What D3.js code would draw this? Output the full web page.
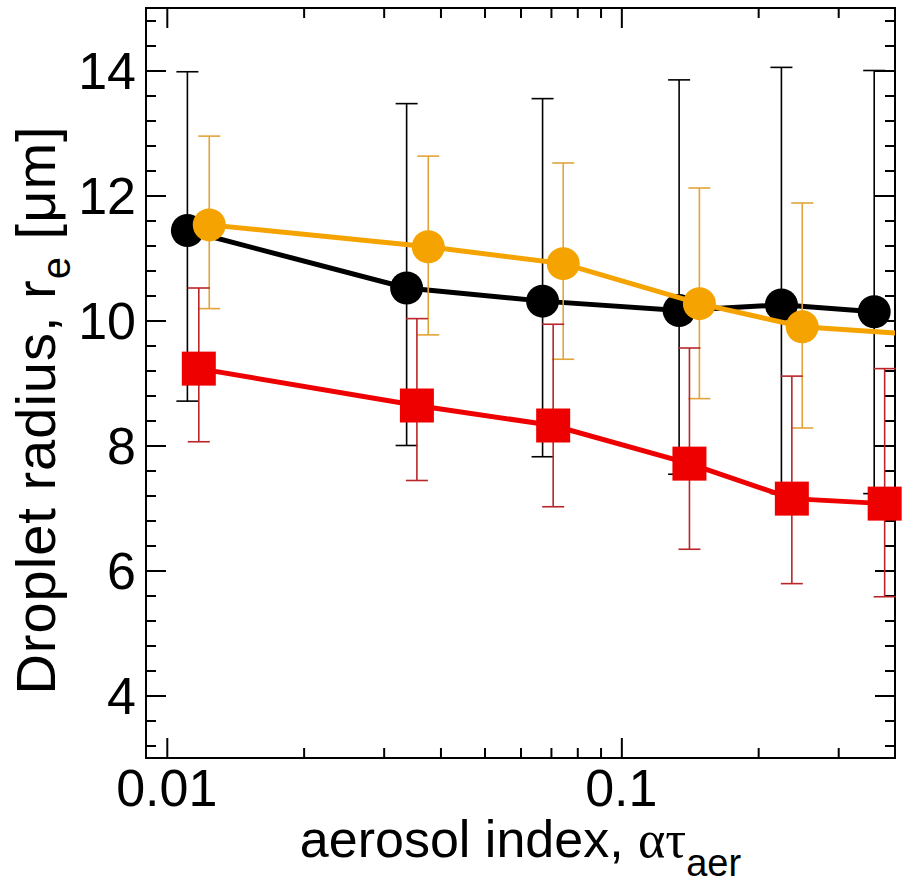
<!DOCTYPE html>
<html>
<head>
<meta charset="utf-8">
<script src="https://cdn.jsdelivr.net/npm/d3@7.9.0/dist/d3.min.js"></script>
<style>
  html, body { margin: 0; padding: 0; background: #fff; }
  svg { display: block; font-family: "Liberation Sans", Arial, sans-serif; }
</style>
</head>
<body>
<div id="chart"></div>
<script>
// aerosol index (x) per series, slightly offset per series in the original
const blackX = [0.0111, 0.0337, 0.0671, 0.134, 0.225, 0.360];
const blackY = [11.44, 10.52, 10.31, 10.16, 10.25, 10.14];
const blackHi = [13.98, 13.47, 13.55, 13.85, 14.05, 14.0];
const blackLo = [8.71, 8.0, 7.82, 7.54, 7.23, 7.23];

const orangeX = [0.0124, 0.0376, 0.0745, 0.1485, 0.250, 0.401];
const orangeY = [11.53, 11.18, 10.91, 10.27, 9.90, 9.80];
const orangeHi = [12.95, 12.63, 12.52, 12.12, 11.88, 11.6];
const orangeLo = [10.19, 9.77, 9.38, 8.75, 8.28, 8.1];

const redX = [0.01176, 0.0355, 0.0708, 0.1412, 0.2372, 0.3796];
const redY = [9.23, 8.64, 8.32, 7.71, 7.15, 7.07];
const redHi = [10.52, 10.03, 9.94, 9.56, 9.11, 9.23];
const redLo = [8.06, 7.44, 7.02, 6.34, 5.79, 5.58];

const xMajorTicks = [0.01, 0.1];
const xMajorLabels = ["0.01", "0.1"];
const xMinorTicks = [0.02, 0.03, 0.04, 0.05, 0.06, 0.07, 0.08, 0.09, 0.2, 0.3];
const yMajorTicks = [4, 6, 8, 10, 12, 14];

const width = 904;
const height = 886;
const plot = { left: 146, right: 895, top: 8, bottom: 758 };

const svg = d3.select('#chart')
    .append('svg')
    .attr('width', width)
    .attr('height', height)
    .attr('viewBox', `0 0 ${width} ${height}`);

const xScale = d3.scaleLog()
    .domain([0.009, 0.4])
    .range([plot.left, plot.right]);

const yScale = d3.scaleLinear()
    .domain([3, 15])
    .range([plot.bottom, plot.top]);

const yMinorTicks = d3.range(3.2, 15, 0.4)
    .map(v => +v.toFixed(1))
    .filter(v => !yMajorTicks.includes(v));

svg.append('defs').append('clipPath')
    .attr('id', 'plot-clip')
    .append('rect')
    .attr('x', plot.left)
    .attr('y', plot.top)
    .attr('width', plot.right - plot.left)
    .attr('height', plot.bottom - plot.top);

// axes: ticks point inward on all four sides
function tickAxis(axisFn, scale, values, size, transform) {
    const g = svg.append('g')
        .attr('transform', transform)
        .call(axisFn(scale).tickValues(values).tickSize(size).tickFormat(''));
    g.select('.domain').remove();
    g.selectAll('.tick line').attr('stroke', '#000').attr('stroke-width', 2);
    return g;
}

tickAxis(d3.axisBottom, xScale, xMajorTicks, -20, `translate(0,${plot.bottom})`);
tickAxis(d3.axisBottom, xScale, xMinorTicks, -10, `translate(0,${plot.bottom})`);
tickAxis(d3.axisTop, xScale, xMajorTicks, -20, `translate(0,${plot.top})`);
tickAxis(d3.axisTop, xScale, xMinorTicks, -10, `translate(0,${plot.top})`);
tickAxis(d3.axisLeft, yScale, yMajorTicks, -20, `translate(${plot.left},0)`);
tickAxis(d3.axisLeft, yScale, yMinorTicks, -10, `translate(${plot.left},0)`);
tickAxis(d3.axisRight, yScale, yMajorTicks, -20, `translate(${plot.right},0)`);
tickAxis(d3.axisRight, yScale, yMinorTicks, -10, `translate(${plot.right},0)`);

svg.append('rect')
    .attr('x', plot.left)
    .attr('y', plot.top)
    .attr('width', plot.right - plot.left)
    .attr('height', plot.bottom - plot.top)
    .attr('fill', 'none')
    .attr('stroke', '#000')
    .attr('stroke-width', 2);

// tick labels
svg.append('g').selectAll('text')
    .data(yMajorTicks)
    .join('text')
    .attr('x', plot.left - 10)
    .attr('y', d => yScale(d))
    .attr('dy', '0.35em')
    .attr('text-anchor', 'end')
    .attr('font-size', 52)
    .text(d => d);

svg.append('g').selectAll('text')
    .data(xMajorTicks)
    .join('text')
    .attr('x', d => xScale(d))
    .attr('y', 806)
    .attr('text-anchor', 'middle')
    .attr('font-size', 52)
    .text((d, i) => xMajorLabels[i]);

// axis titles
const xTitle = svg.append('text')
    .attr('x', (plot.left + plot.right) / 2)
    .attr('y', 857)
    .attr('text-anchor', 'middle')
    .attr('font-size', 52);
xTitle.append('tspan').text('aerosol index, ');
xTitle.append('tspan').attr('font-family', '"Liberation Serif", serif').text('ατ');
xTitle.append('tspan').attr('font-size', 38).attr('dy', 19).text('aer');

const yTitle = svg.append('text')
    .attr('transform', 'translate(55,410) rotate(-90)')
    .attr('text-anchor', 'middle')
    .attr('font-size', 56)
    .attr('letter-spacing', 1);
yTitle.append('tspan').text('Droplet radius, r');
yTitle.append('tspan').attr('font-size', 40).attr('dy', 15).text('e');
yTitle.append('tspan').attr('dy', -15).text(' [μm]');

// series
const series = [
    { x: blackX, y: blackY, hi: blackHi, lo: blackLo, color: '#000', barColor: '#000', shape: 'circle' },
    { x: orangeX, y: orangeY, hi: orangeHi, lo: orangeLo, color: '#f5a300', barColor: '#e2a43a', shape: 'circle' },
    { x: redX, y: redY, hi: redHi, lo: redLo, color: '#ee0000', barColor: '#b8262a', shape: 'square' },
];

const [xMin, xMax] = xScale.domain();

series.forEach(s => {
    const pts = s.x.map((xv, i) => ({ x: xv, y: s.y[i], hi: s.hi[i], lo: s.lo[i] }));
    const inside = pts.filter(d => d.x >= xMin && d.x <= xMax);
    const g = svg.append('g');

    const bars = g.append('g')
        .attr('stroke', s.barColor)
        .attr('stroke-width', 1.6);
    bars.selectAll('line.v')
        .data(inside)
        .join('line')
        .attr('class', 'v')
        .attr('x1', d => xScale(d.x))
        .attr('x2', d => xScale(d.x))
        .attr('y1', d => yScale(d.hi))
        .attr('y2', d => yScale(d.lo));
    bars.selectAll('line.hi')
        .data(inside)
        .join('line')
        .attr('class', 'hi')
        .attr('x1', d => xScale(d.x) - 11)
        .attr('x2', d => xScale(d.x) + 11)
        .attr('y1', d => yScale(d.hi))
        .attr('y2', d => yScale(d.hi));
    bars.selectAll('line.lo')
        .data(inside)
        .join('line')
        .attr('class', 'lo')
        .attr('x1', d => xScale(d.x) - 11)
        .attr('x2', d => xScale(d.x) + 11)
        .attr('y1', d => yScale(d.lo))
        .attr('y2', d => yScale(d.lo));

    g.append('path')
        .datum(pts)
        .attr('clip-path', 'url(#plot-clip)')
        .attr('fill', 'none')
        .attr('stroke', s.color)
        .attr('stroke-width', 5)
        .attr('d', d3.line().x(d => xScale(d.x)).y(d => yScale(d.y)));

    if (s.shape === 'circle') {
        g.selectAll('circle')
            .data(inside)
            .join('circle')
            .attr('cx', d => xScale(d.x))
            .attr('cy', d => yScale(d.y))
            .attr('r', 16.5)
            .attr('fill', s.color);
    } else {
        g.selectAll('rect')
            .data(inside)
            .join('rect')
            .attr('x', d => xScale(d.x) - 17)
            .attr('y', d => yScale(d.y) - 17)
            .attr('width', 34)
            .attr('height', 34)
            .attr('fill', s.color);
    }
});
</script>
</body>
</html>
